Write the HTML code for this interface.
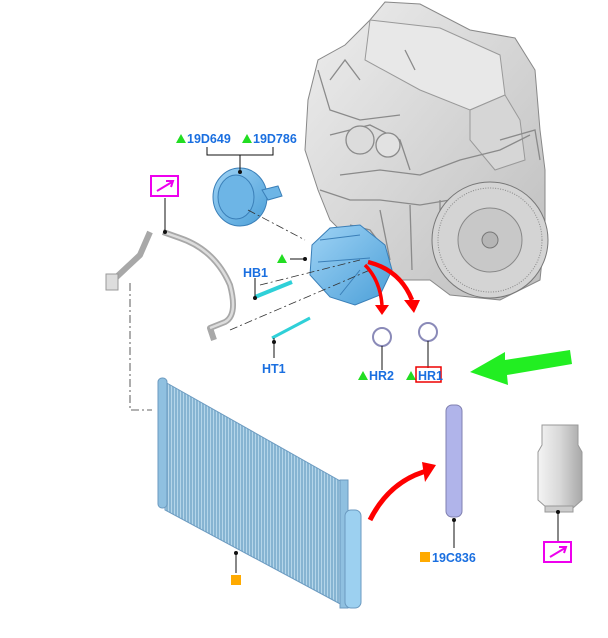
<!DOCTYPE html>
<html><head><meta charset="utf-8"><style>
html,body{margin:0;padding:0;background:#fff;width:608px;height:638px;overflow:hidden}
svg{display:block}
text{font-family:"Liberation Sans",sans-serif;font-weight:bold;font-size:12.5px;fill:#1a6fe0}
</style></head><body>
<svg width="608" height="638" viewBox="0 0 608 638" xmlns="http://www.w3.org/2000/svg">
<defs>
<linearGradient id="eg" x1="0" y1="0" x2="1" y2="1"><stop offset="0" stop-color="#eeeeee"/><stop offset="1" stop-color="#bdbdbd"/></linearGradient>
<linearGradient id="bl" x1="0" y1="0" x2="1" y2="1"><stop offset="0" stop-color="#9fd3f5"/><stop offset="1" stop-color="#4b9fd8"/></linearGradient>
<linearGradient id="cn" x1="0" y1="0" x2="1" y2="0"><stop offset="0" stop-color="#f4f4f4"/><stop offset="0.5" stop-color="#d8d8d8"/><stop offset="1" stop-color="#a8a8a8"/></linearGradient>
<pattern id="fins" width="3" height="10" patternUnits="userSpaceOnUse"><rect width="3" height="10" fill="#86b4d2"/><rect width="1" height="10" fill="#b5d6ea"/></pattern>
</defs>
<!-- engine -->
<path d="M385,2 L420,4 L470,30 L515,38 L535,70 L540,130 L545,170 L545,230 L540,280 L500,300 L450,295 L430,280 L400,280 L380,260 L350,240 L330,220 L318,190 L305,150 L308,100 L318,60 L345,45 L370,20 Z" fill="url(#eg)" stroke="#888" stroke-width="1"/>
<path d="M370,20 L440,28 L500,55 L505,95 L470,110 L420,90 L365,60 Z" fill="#e8e8e8" stroke="#999"/>
<path d="M470,110 L505,95 L520,120 L525,160 L495,170 L470,140 Z" fill="#d6d6d6" stroke="#999"/>
<g stroke="#8a8a8a" fill="none" stroke-width="1.3">
<path d="M318,70 L330,110 L360,120 L400,115"/><path d="M330,135 L370,125 L400,140 L410,170"/>
<circle cx="360" cy="140" r="14" fill="#dcdcdc"/><circle cx="388" cy="145" r="12" fill="#e2e2e2"/>
<path d="M340,175 L380,170 L420,175 L460,160 L500,150 L530,135"/>
<path d="M320,190 L350,200 L380,200 L420,205 L450,200"/>
<path d="M380,210 L390,260 M410,205 L412,270 M440,200 L440,240"/>
<path d="M330,80 L345,60 L360,80 M405,50 L415,70 M500,140 L535,130 L540,160"/>
<path d="M350,225 L370,230 L385,250"/>
</g>
<circle cx="490" cy="240" r="58" fill="#d4d4d4" stroke="#777"/>
<circle cx="490" cy="240" r="52" fill="none" stroke="#888" stroke-dasharray="1 1.5"/>
<circle cx="490" cy="240" r="32" fill="#c8c8c8" stroke="#888"/>
<circle cx="490" cy="240" r="8" fill="#b5b5b5" stroke="#777"/>
<!-- clutch -->
<ellipse cx="240" cy="197" rx="27" ry="29" fill="url(#bl)" stroke="#3a7fb8"/>
<ellipse cx="236" cy="197" rx="18" ry="22" fill="#6db5e6" stroke="#3a7fb8"/>
<path d="M262,190 L278,186 L282,196 L268,200 Z" fill="#6db5e6" stroke="#3a7fb8"/>
<!-- compressor -->
<path d="M312,245 L330,228 L360,225 L385,245 L392,270 L380,295 L355,305 L330,297 L310,275 Z" fill="url(#bl)" stroke="#3a7fb8"/>
<g stroke="#3a7fb8" fill="none"><path d="M320,240 L360,235 M318,262 L370,258 M340,295 L360,270"/></g>
<!-- dash lines -->
<g stroke="#333" stroke-width="0.8" fill="none" stroke-dasharray="8 3 2 3">
<path d="M248,210 L305,240"/><path d="M260,285 L360,260"/><path d="M230,330 L370,270"/>
<path d="M130,283 L130,410 L152,410"/>
</g>
<!-- red arrows -->
<path d="M365,265 Q380,280 382,305" stroke="#f00" stroke-width="3.5" fill="none"/>
<polygon points="375,305 389,305 382,315" fill="#f00"/>
<path d="M368,262 Q400,270 412,300" stroke="#f00" stroke-width="4.5" fill="none"/>
<polygon points="404,300 420,300 414,313" fill="#f00"/>
<path d="M370,520 Q390,480 430,470" stroke="#f00" stroke-width="5" fill="none"/>
<polygon points="422,462 436,465 425,482" fill="#f00"/>
<!-- bolts -->
<line x1="255" y1="297" x2="292" y2="282" stroke="#2fd0d8" stroke-width="4"/>
<line x1="272" y1="338" x2="310" y2="318" stroke="#2fd0d8" stroke-width="3"/>
<!-- o rings -->
<circle cx="382" cy="337" r="9" fill="none" stroke="#8a8ab8" stroke-width="2"/>
<circle cx="428" cy="332" r="9" fill="none" stroke="#8a8ab8" stroke-width="2"/>
<!-- hose -->
<path d="M108,285 L140,255 L150,232 M163,232 L180,238 Q215,250 230,285 Q238,315 225,322 L210,328 L214,340" stroke="#a8a8a8" stroke-width="6" fill="none" stroke-linejoin="round"/>
<path d="M163,232 L180,238 Q215,250 230,285 Q238,315 225,322 L210,328" stroke="#ddd" stroke-width="2.5" fill="none"/>
<rect x="106" y="274" width="12" height="16" fill="#ddd" stroke="#999"/>
<!-- condenser -->
<polygon points="165,382 342,482 344,606 165,510" fill="url(#fins)" stroke="#6b9ac0"/>
<rect x="158" y="378" width="9" height="130" rx="4" fill="#8fc0e0" stroke="#6b9ac0"/>
<rect x="340" y="480" width="8" height="128" fill="#8fc0e0" stroke="#6b9ac0"/>
<rect x="345" y="510" width="16" height="98" rx="6" fill="#9cd0f0" stroke="#6b9ac0"/>
<!-- drier -->
<rect x="446" y="405" width="16" height="112" rx="6" fill="#b0b4ea" stroke="#8080b0"/>
<!-- canister -->
<path d="M542,425 L578,425 L578,445 L582,452 L582,500 L573,508 L547,508 L538,500 L538,452 L542,445 Z" fill="url(#cn)" stroke="#999"/>
<rect x="545" y="506" width="28" height="6" fill="#ccc" stroke="#999"/>
<!-- green arrow -->
<polygon points="470,372 505,352 505,360 570,350 572,364 507,375 508,385" fill="#22ee22"/>
<!-- leader lines -->
<g stroke="#111" stroke-width="1" fill="none">
<path d="M207,147 L207,155 L273,155 L273,147 M240,155 L240,172"/>
<line x1="165" y1="198" x2="165" y2="232"/>
<line x1="255" y1="278" x2="255" y2="297"/>
<line x1="274" y1="338" x2="274" y2="358"/>
<line x1="382" y1="346" x2="382" y2="370"/>
<line x1="428" y1="341" x2="428" y2="368"/>
<line x1="236" y1="553" x2="236" y2="573"/>
<line x1="454" y1="520" x2="454" y2="548"/>
<line x1="558" y1="512" x2="558" y2="542"/>
<line x1="290" y1="259" x2="305" y2="259"/>
</g>
<g fill="#111"><circle cx="240" cy="172" r="2"/><circle cx="165" cy="232" r="2"/><circle cx="255" cy="298" r="2"/><circle cx="274" cy="342" r="2"/><circle cx="236" cy="553" r="2"/><circle cx="454" cy="520" r="2"/><circle cx="558" cy="512" r="2"/><circle cx="305" cy="259" r="2"/></g>
<!-- labels -->
<g fill="#22dd22"><polygon points="176,143 181,134 186,143"/><polygon points="242,143 247,134 252,143"/><polygon points="277,263 282,254 287,263"/><polygon points="358,380 363,371 368,380"/><polygon points="406,380 411,371 416,380"/></g>
<text x="187" y="143">19D649</text><text x="253" y="143">19D786</text>
<text x="243" y="277">HB1</text><text x="262" y="373">HT1</text>
<text x="369" y="380">HR2</text>
<rect x="416" y="367" width="25" height="15" fill="none" stroke="#e00" stroke-width="1.5"/>
<text x="418" y="380">HR1</text>
<rect x="231" y="575" width="10" height="10" fill="#ffaa00"/>
<rect x="420" y="552" width="10" height="10" fill="#ffaa00"/><text x="432" y="562">19C836</text>
<!-- pink boxes -->
<rect x="151" y="176" width="27" height="20" fill="none" stroke="#ee00ee" stroke-width="2"/>
<path d="M157,191 L172,182 M166,181 L173,181 L171,187" stroke="#ee00ee" stroke-width="2" fill="none"/>
<rect x="544" y="542" width="27" height="20" fill="none" stroke="#ee00ee" stroke-width="2"/>
<path d="M550,557 L565,548 M559,547 L566,547 L564,553" stroke="#ee00ee" stroke-width="2" fill="none"/>
</svg>
</body></html>
